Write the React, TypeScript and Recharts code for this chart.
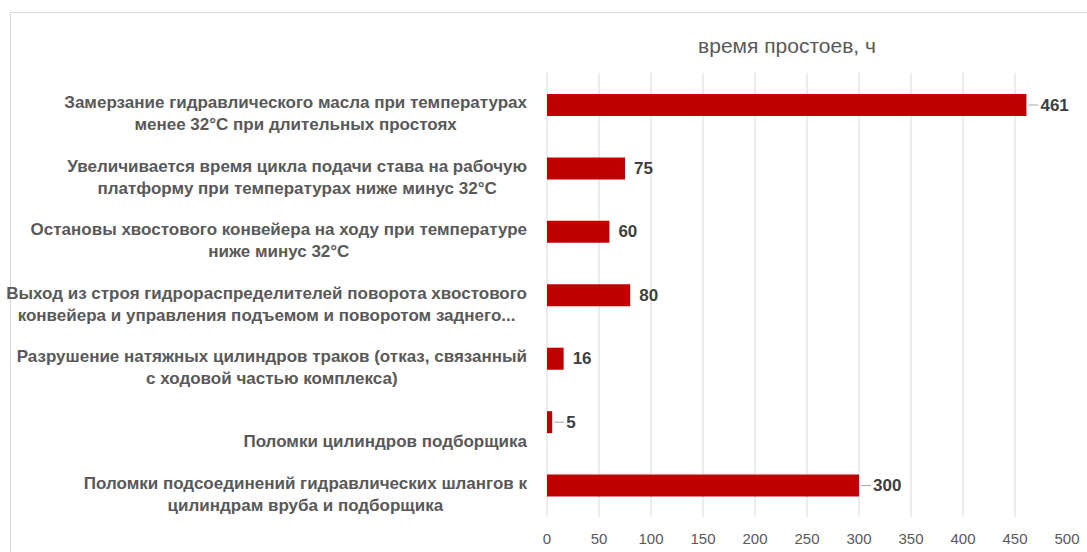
import React from "react";
import { BarChart, Bar, XAxis, YAxis, CartesianGrid } from "recharts";

const categories: string[] = [
  "Замерзание гидравлического масла при температурах\nменее 32°C при длительных простоях",
  "Увеличивается время цикла подачи става на рабочую\nплатформу при температурах ниже минус 32°C",
  "Остановы хвостового конвейера на ходу при температуре\nниже минус 32°C",
  "Выход из строя гидрораспределителей поворота хвостового\nконвейера и управления подъемом и поворотом заднего...",
  "Разрушение натяжных цилиндров траков (отказ, связанный\nс ходовой частью комплекса)",
  "\nПоломки цилиндров подборщика",
  "Поломки подсоединений гидравлических шлангов к\nцилиндрам вруба и подборщика",
];
const downtimeHours: number[] = [461, 75, 60, 80, 16, 5, 300];
const xTicks: number[] = [0, 50, 100, 150, 200, 250, 300, 350, 400, 450, 500];
const gridValues: number[] = [0, 50, 100, 150, 200, 250, 300, 350, 400, 450];
const chartTitle = "время простоев, ч";

const data = categories.map((name, i) => ({ name, value: downtimeHours[i] }));

const FONT = "'Liberation Sans', Arial, sans-serif";
const CAT_SIZE = 17;
const LEADER_ROWS = new Set([0, 5, 6]);

let ctx: CanvasRenderingContext2D | null = null;
function measure(text: string, font: string): number {
  if (!ctx) {
    const c = document.createElement("canvas");
    ctx = c.getContext("2d");
  }
  if (!ctx) return text.length * 8;
  ctx.font = font;
  return ctx.measureText(text).width;
}

const CategoryTick = (props: any) => {
  const { x, y, payload } = props;
  const lines = String(payload.value).split("\n");
  const font = `bold ${CAT_SIZE}px 'Liberation Sans'`;
  const maxW = Math.max(...lines.map((l) => measure(l, font)));
  const right = x - 12;
  const cx = right - maxW / 2;
  return (
    <g>
      {lines.map((l, i) => (
        <text
          key={i}
          x={cx}
          y={y - 2 + i * 22}
          textAnchor="middle"
          dominantBaseline="central"
          fontFamily={FONT}
          fontWeight="bold"
          fontSize={CAT_SIZE}
          fill="#595959"
        >
          {l}
        </text>
      ))}
    </g>
  );
};

const ValueLabel = (props: any) => {
  const { x, y, width, height, value, index } = props;
  const end = x + width;
  const cy = y + height / 2;
  const leader = LEADER_ROWS.has(index);
  return (
    <g>
      {leader && <line x1={end + 2} y1={cy} x2={end + 12} y2={cy} stroke="#a6a6a6" strokeWidth={1} />}
      <text
        x={end + (leader ? 14 : 9)}
        y={cy}
        dominantBaseline="central"
        fontFamily={FONT}
        fontWeight="bold"
        fontSize={17}
        fill="#404040"
      >
        {value}
      </text>
    </g>
  );
};

export default function App() {
  return (
    <div
      style={{
        position: "absolute",
        left: 0,
        top: 0,
        width: 1087,
        height: 552,
        overflow: "hidden",
        background: "#ffffff",
      }}
    >
      <div
        style={{
          position: "absolute",
          left: 10,
          top: 12,
          width: 1200,
          height: 700,
          border: "1px solid #d9d9d9",
        }}
      />
      <div
        style={{
          position: "absolute",
          left: 587,
          width: 400,
          top: 33,
          textAlign: "center",
          fontFamily: FONT,
          fontSize: 21,
          color: "#595959",
          lineHeight: "26px",
        }}
      >
        {chartTitle}
      </div>
      <div style={{ position: "absolute", left: 0, top: 0 }}>
        <BarChart
          width={1087}
          height={552}
          data={data}
          layout="vertical"
          margin={{ top: 73, right: 20, bottom: 5, left: 0 }}
        >
          <CartesianGrid horizontal={false} stroke="#d9d9d9" verticalValues={gridValues} />
          <XAxis
            type="number"
            domain={[0, 500]}
            ticks={xTicks}
            axisLine={false}
            tickLine={false}
            tickMargin={10}
            height={30}
            tick={{ fill: "#595959", fontSize: 15, fontFamily: FONT }}
            interval={0}
          />
          <YAxis
            type="category"
            dataKey="name"
            width={547}
            axisLine={false}
            tickLine={false}
            tick={<CategoryTick />}
            interval={0}
          />
          <Bar dataKey="value" fill="#c00000" barSize={22} isAnimationActive={false} label={<ValueLabel />} />
        </BarChart>
      </div>
    </div>
  );
}
